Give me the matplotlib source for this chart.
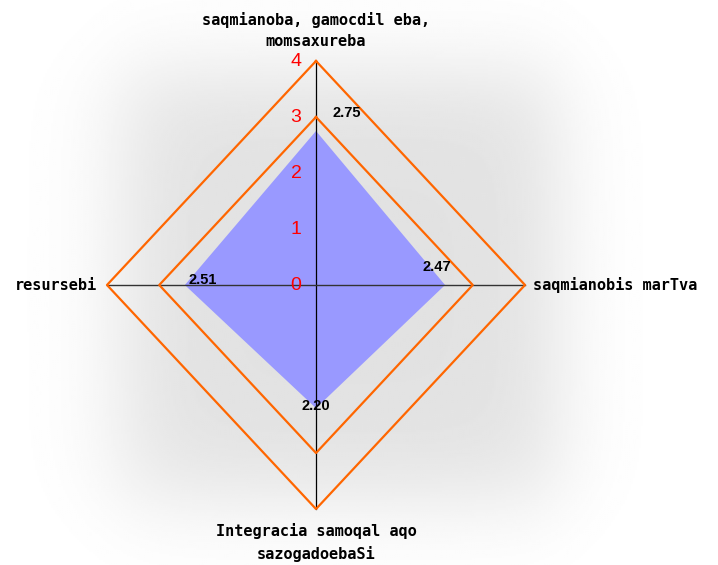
"""Radar chart of four assessment areas (diamond grid)."""
import numpy as np
import matplotlib
matplotlib.use("Agg")
import matplotlib.pyplot as plt

categories = ["saqmianoba, gamocdil eba,\nmomsaxureba", "resursebi",
              "Integracia samoqal aqo\nsazogadoebaSi", "saqmianobis marTva"]
values = [2.75, 2.51, 2.20, 2.47]
value_labels = ["2.75", "2.51", "2.20", "2.47"]
grid_levels = [3, 4]
tick_values = [0, 1, 2, 3, 4]

# axis directions: top, left, bottom, right
angles = np.deg2rad([90, 180, 270, 0])
ux, uy = np.cos(angles), np.sin(angles)

fig = plt.figure(figsize=(7.18, 5.65), dpi=100)
ax = fig.add_axes([0, 0, 1, 1])
ax.set_xlim(-316 / 52.25, (718 - 316) / 52.25)
ax.set_ylim(-(565 - 285) / 56, 285 / 56)
ax.axis("off")

# soft gray shadow behind the chart
xs = np.linspace(0, 718, 360)
ys = np.linspace(0, 565, 283)
X, Y = np.meshgrid(xs, ys)
fx = 0.5 * (np.tanh((X - 120) / 55) - np.tanh((X - 560) / 50))
fy = 0.5 * (np.tanh((Y - 70) / 55) - np.tanh((Y - 500) / 55))
shade = 1.0 - 0.115 * fx * fy
ax.imshow(shade, cmap="gray", vmin=0, vmax=1, extent=ax.get_xlim() + ax.get_ylim(),
          origin="upper", aspect="auto", zorder=0, interpolation="bilinear")

# value polygon
px, py = np.array(values) * ux, np.array(values) * uy
ax.fill(px, py, color="#9999ff", lw=0, zorder=1)

# axes spokes
rmax = max(grid_levels)
ax.plot([0, 0], [-rmax, rmax], color="black", lw=0.9, zorder=2)
ax.plot([-rmax, rmax], [0, 0], color="#333333", lw=1.0, zorder=2)

# diamond grid rings
for g in grid_levels:
    gx = np.append(g * ux, g * ux[0])
    gy = np.append(g * uy, g * uy[0])
    ax.plot(gx, gy, color="#ff6600", lw=1.6, zorder=3)

# red scale on the top axis
for t in tick_values:
    ax.text(-0.38, t, str(t), color="red", fontsize=14, ha="center", va="center",
            family="Liberation Sans", zorder=4)

# value labels
offsets = [(0.59, 0.32), (0.35, 0.09), (0.0, 0.04), (-0.155, 0.32)]
for v, lab, dx, dy, (ox, oy) in zip(values, value_labels, ux, uy, offsets):
    ax.text(v * dx + ox, v * dy + oy, lab, fontsize=10.5, fontweight="bold",
            family="Liberation Sans", ha="center", va="center", zorder=4)

# category labels
lab_font = dict(family="DejaVu Sans Mono", fontsize=11, fontweight="bold", zorder=4)
ax.text(0, 4.55, categories[0], ha="center", va="center", linespacing=1.5, **lab_font)
ax.text(-4.2, 0, categories[1], ha="right", va="center", **lab_font)
ax.text(0, -4.6, categories[2], ha="center", va="center", linespacing=1.5, **lab_font)
ax.text(4.15, 0, categories[3], ha="left", va="center", **lab_font)

fig.savefig("out.png", dpi=100)
plt.close(fig)
